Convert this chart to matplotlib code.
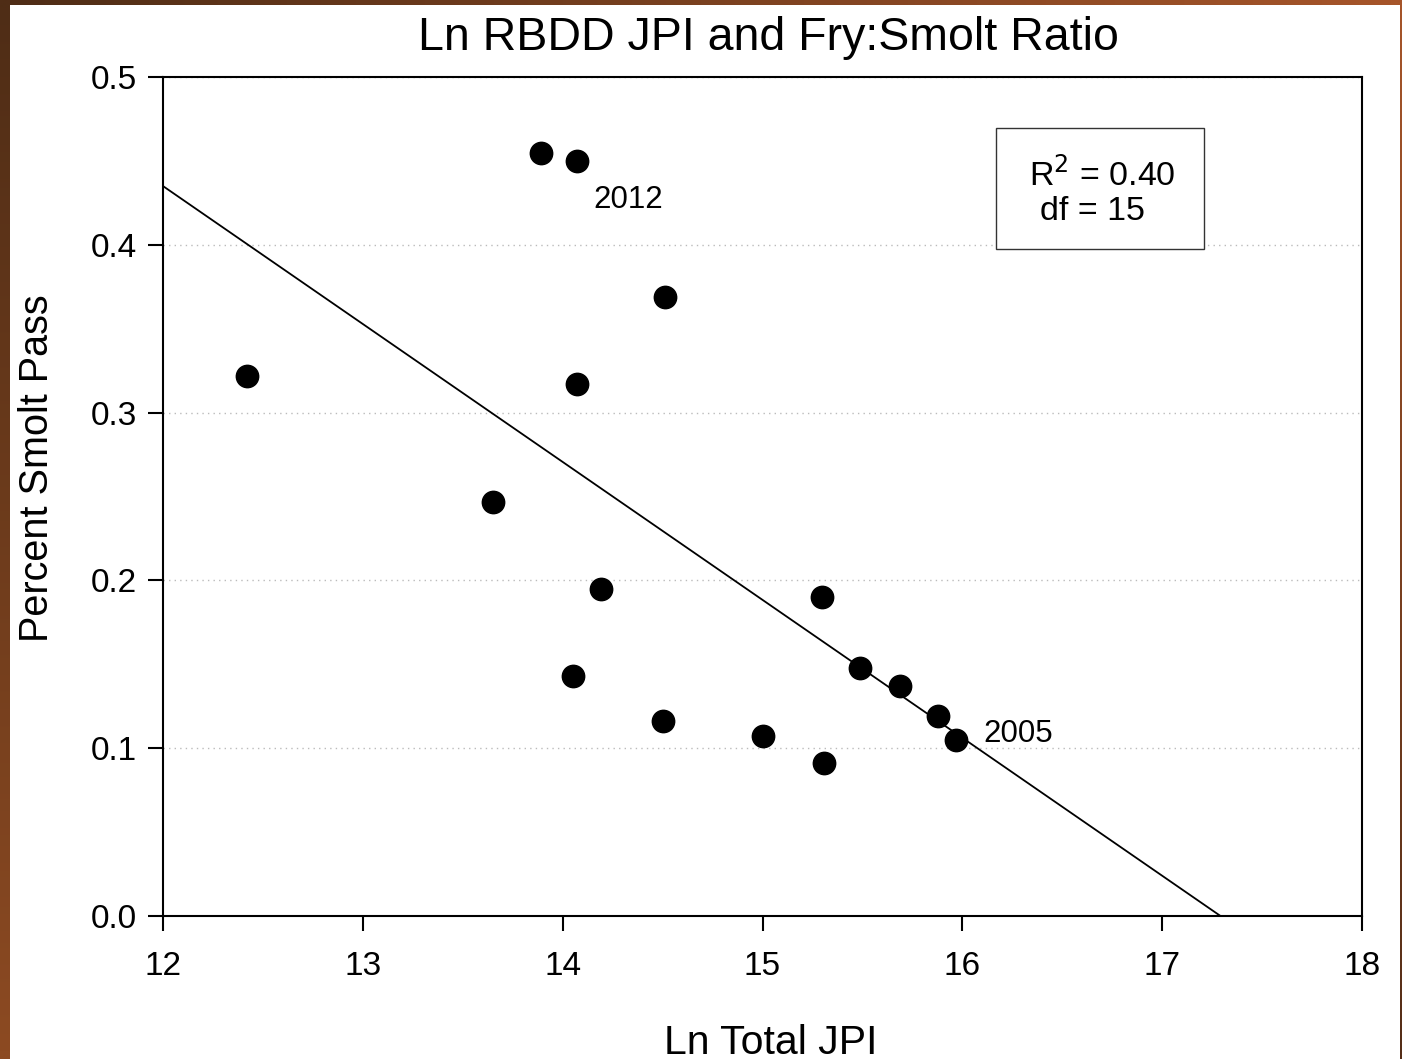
import numpy as np
import matplotlib.pyplot as plt
from matplotlib.patches import Rectangle

plt.rcParams['font.family'] = ['Liberation Sans', 'DejaVu Sans']

# data
ln_jpi = [12.42, 13.89, 14.07, 14.51, 14.07, 13.65, 14.19, 14.05,
          14.50, 15.00, 15.31, 15.30, 15.49, 15.69, 15.88, 15.97]
smolt_pass = [0.322, 0.455, 0.450, 0.369, 0.317, 0.247, 0.195, 0.143,
              0.116, 0.107, 0.091, 0.190, 0.148, 0.137, 0.119, 0.105]

# regression line
fit_intercept = 0.435   # value at x = 12
fit_x0 = 12.0
fit_slope = -0.0822

year_labels = ["2012", "2005"]
year_pos = [(14.33, 0.4267), (16.28, 0.1085)]

x_ticks = [12, 13, 14, 15, 16, 17, 18]
y_ticks = [0.0, 0.1, 0.2, 0.3, 0.4, 0.5]

W, H = 1402, 1059
fig = plt.figure(figsize=(W / 100, H / 100), dpi=100)

# brown slide frame behind the chart
bg = fig.add_axes([0, 0, 1, 1])
tl = np.array([0x4f, 0x2d, 0x16]) / 255
tr = np.array([0xa6, 0x55, 0x2a]) / 255
bl = np.array([0x8c, 0x4a, 0x22]) / 255
br = np.array([0x55, 0x2e, 0x18]) / 255
u = np.linspace(0, 1, 64)[None, :, None]
v = np.linspace(0, 1, 64)[:, None, None]
grad = (1 - v) * ((1 - u) * tl + u * tr) + v * ((1 - u) * bl + u * br)
bg.imshow(grad, extent=[0, W, H, 0], aspect='auto', interpolation='bilinear')
bg.add_patch(Rectangle((10, 5), W - 12, H - 5, facecolor='white', edgecolor='none'))
bg.set_xlim(0, W)
bg.set_ylim(H, 0)
bg.axis('off')

ax = fig.add_axes([163 / W, 1 - 916 / H, (1362 - 163) / W, (916 - 77) / H])
ax.set_xlim(12, 18)
ax.set_ylim(0, 0.5)

ax.scatter(ln_jpi, smolt_pass, s=260, color='black', zorder=3, clip_on=False)

xs = np.array([12, 18])
ax.plot(xs, fit_intercept + fit_slope * (xs - fit_x0), color='black', lw=1.3, zorder=2)

for lab, (x, y) in zip(year_labels, year_pos):
    ax.text(x, y, lab, fontsize=22.5, ha='center', va='center')

ax.set_xticks(x_ticks)
ax.set_yticks(y_ticks)
ax.set_yticklabels([f"{t:.1f}" for t in y_ticks])
ax.tick_params(axis='both', direction='out', length=11, width=1.5, labelsize=24,
               top=False, right=False)
ax.tick_params(axis='y', pad=8)
ax.tick_params(axis='x', pad=14)
for sp in ax.spines.values():
    sp.set_linewidth(1.5)
ax.grid(axis='y', linestyle=(0, (1, 3)), color='#bbbbbb', lw=1)
ax.set_axisbelow(True)

ax.set_xlabel("Ln Total JPI", fontsize=29.5, va='center')
ax.xaxis.set_label_coords(0.507, -(1043 - 916) / 839)
ax.set_ylabel("Percent Smolt Pass", fontsize=28.5, va='center')
ax.yaxis.set_label_coords(-(163 - 37) / 1199, 0.534)
ax.set_title("Ln RBDD JPI and Fry:Smolt Ratio", fontsize=33.5, y=1 + 31 / 839,
             va='center', x=0.505)

# stats box
ax.add_patch(Rectangle((16.17, 0.3975), 1.04, 0.072, transform=ax.transData,
                       facecolor='white', edgecolor='#333333', lw=1, zorder=4))
ax.text(16.70, 0.4420, "R$^2$ = 0.40", fontsize=24.5, ha='center', va='center', zorder=5)
ax.text(16.65, 0.4196, "df = 15", fontsize=24.5, ha='center', va='center', zorder=5)

fig.savefig("out.png", dpi=100)
